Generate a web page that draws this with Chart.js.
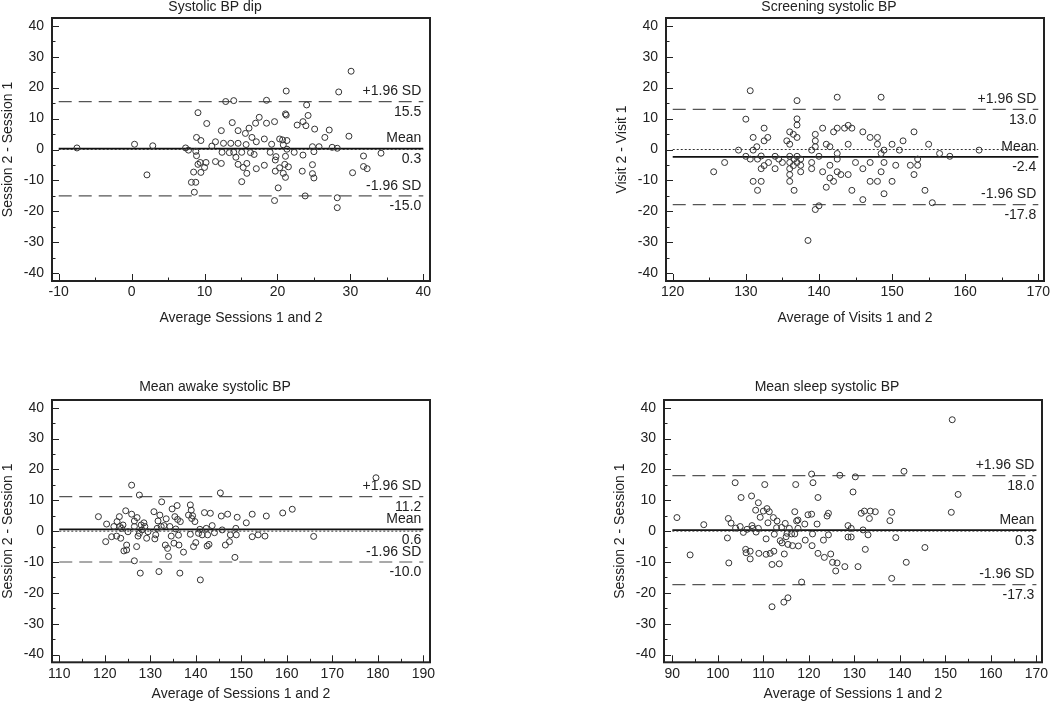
<!DOCTYPE html>
<html><head><meta charset="utf-8">
<script src="https://cdn.jsdelivr.net/npm/chart.js@4.4.1/dist/chart.umd.min.js"></script>
<style>
html,body{margin:0;padding:0;background:#fff;width:1050px;height:703px;overflow:hidden}
.p{position:absolute}
</style></head><body>
<div class="p" style="left:0px;top:0px;width:490px;height:330px"><canvas id="c1"></canvas></div>
<div class="p" style="left:614px;top:0px;width:490px;height:330px"><canvas id="c2"></canvas></div>
<div class="p" style="left:0px;top:380px;width:490px;height:323px"><canvas id="c3"></canvas></div>
<div class="p" style="left:612px;top:380px;width:490px;height:323px"><canvas id="c4"></canvas></div>
<script>
// ---------- data ----------
const titles = ['Systolic BP dip', 'Screening systolic BP', 'Mean awake systolic BP', 'Mean sleep systolic BP'];
const xTitles = ['Average Sessions 1 and 2', 'Average of Visits 1 and 2', 'Average of Sessions 1 and 2', 'Average of Sessions 1 and 2'];
const yTitles = ['Session 2 - Session 1', 'Visit 2 - Visit 1', 'Session 2 - Session 1', 'Session 2 - Session 1'];

const diffYTicks = [-40, -30, -20, -10, 0, 10, 20, 30, 40];
const dipXTicks = [-10, 0, 10, 20, 30, 40];
const screenXTicks = [120, 130, 140, 150, 160, 170];
const awakeXTicks = [110, 120, 130, 140, 150, 160, 170, 180, 190];
const sleepXTicks = [90, 100, 110, 120, 130, 140, 150, 160, 170];

// limits: [+1.96 SD, mean, -1.96 SD]
const dipLimits = [15.5, 0.3, -15.0];
const screenLimits = [13.0, -2.4, -17.8];
const awakeLimits = [11.2, 0.6, -10.0];
const sleepLimits = [18.0, 0.3, -17.3];

const dipAvg = [-7.5,0.4,2.1,2.9,7.4,7.8,9.1,8.9,9.5,8.8,
8.9,9.4,10.2,9.1,10.0,9.5,8.5,8.2,8.8,8.6,
10.3,11.0,11.5,12.3,12.6,12.4,11.5,12.3,12.9,14.0,
13.8,13.6,13.4,14.0,14.3,14.6,14.6,14.6,15.1,15.1,
15.3,15.8,15.8,15.6,15.7,16.1,16.5,16.3,16.8,17.1,
17.0,17.5,17.1,18.2,18.5,18.5,18.2,19.0,19.2,19.6,
19.8,19.7,19.7,19.6,20.1,20.3,20.7,21.3,20.8,20.3,
20.8,21.1,21.5,21.0,21.3,21.1,21.1,21.2,21.2,22.3,
22.7,23.5,23.9,24.0,24.2,23.5,23.4,23.8,24.8,25.0,
24.8,24.8,25.0,25.1,25.7,26.5,27.1,27.5,28.2,28.2,
28.2,28.4,29.8,30.1,30.3,31.8,31.8,32.3,34.2];
const dipDiff = [0.5,1.7,-8.2,1.2,0.5,-0.2,11.9,3.9,2.9,-0.6,
-2.0,-4.2,-4.2,-4.8,-5.8,-7.4,-7.3,-10.6,-10.6,-13.8,
8.4,1.1,2.5,6.1,2.0,-0.9,-3.9,-4.5,15.5,15.8,
8.7,2.0,-1.0,-0.9,-2.5,6.1,2.0,-4.8,-10.4,-0.9,
-5.8,-4.5,-7.7,5.2,1.6,6.9,3.9,-1.0,-1.6,2.5,
8.5,10.4,-6.2,3.4,15.9,8.5,-5.1,-0.9,1.7,9.0,
-2.3,-3.4,-7.0,-16.5,-12.4,3.4,3.1,2.9,1.5,-5.9,
-7.7,-9.0,-5.6,-4.8,0.1,-2.2,11.5,11.1,18.9,-0.9,
7.9,9.0,7.7,14.4,11.0,-1.8,-7.0,-15.0,0.9,-0.7,
-4.9,-7.8,-9.2,6.6,0.9,3.9,6.3,0.7,0.4,-15.6,
-18.8,18.6,4.3,25.3,-7.5,-2.1,-5.5,-6.2,-1.2];

const screenAvg = [125.6,127.1,129.0,130.6,130.0,130.0,130.6,131.0,131.0,131.0,
131.5,131.6,131.6,132.1,132.1,132.1,132.5,132.5,132.5,133.0,
133.1,134.0,134.0,134.5,135.0,135.6,136.0,136.0,136.0,136.0,
136.0,136.0,136.0,136.5,136.5,136.6,137.0,137.0,137.0,137.0,
137.0,137.0,137.5,137.5,138.5,139.0,139.0,139.0,139.5,139.5,
139.5,139.5,140.0,140.0,140.5,140.5,141.0,141.0,141.5,141.5,
141.5,142.0,142.0,142.5,142.5,142.5,142.5,142.5,143.0,143.5,
144.0,144.0,144.0,144.5,144.5,145.0,146.0,146.0,146.0,147.0,
147.0,147.0,148.0,148.0,148.0,148.5,148.5,148.5,148.9,148.9,
148.9,150.0,150.0,150.5,151.0,151.5,152.5,153.0,153.0,153.5,
153.5,154.5,155.0,155.5,156.5,157.9,161.9,136.6,137.5];
const screenDiff = [-7.2,-4.2,-0.2,19.0,9.8,-2.2,-3.1,3.9,-0.2,-10.3,
0.9,-3.1,-13.2,-2.1,-6.2,-10.3,6.9,2.8,-5.2,3.9,
-4.2,-6.2,-2.2,-3.1,-4.2,2.8,1.7,5.7,-2.2,-4.2,
-6.2,-8.1,-10.3,4.9,-5.2,-13.2,15.8,9.9,7.9,3.9,
-2.2,-4.2,-5.1,-7.2,-29.4,-0.2,-4.2,-6.2,4.9,2.8,
0.9,-19.4,-18.2,-2.2,6.9,-7.2,1.7,-12.2,0.9,-5.1,
-9.2,5.7,-10.3,16.9,6.9,-1.3,-3.1,-7.2,-8.1,6.9,
7.8,1.7,-8.1,6.9,-13.2,-4.2,5.7,-6.2,-16.2,3.9,
-4.2,-10.3,3.9,1.7,-10.3,16.9,-1.3,-7.2,-0.2,-4.2,
-14.3,1.7,-10.3,-5.1,-0.2,2.8,-5.1,5.7,-8.1,-3.1,
-5.1,-13.2,1.7,-17.2,-1.3,-2.2,-0.2,-3.1,-3.1];

const awakeAvg = [118.6,120.4,120.2,121.5,122.0,122.6,122.7,123.2,123.3,123.5,
123.7,124.0,124.2,124.6,124.8,124.8,125.1,125.9,125.9,126.5,
126.5,127.0,127.1,127.3,127.6,127.6,127.8,128.2,128.6,128.8,
129.2,129.5,130.8,131.0,131.2,131.5,131.7,131.9,132.1,132.4,
132.5,133.0,133.3,133.5,133.8,134.0,134.3,134.6,134.8,135.2,
135.4,135.6,135.9,136.0,136.2,136.3,136.5,136.6,137.3,138.4,
138.8,139.0,139.1,138.8,139.3,139.5,139.8,140.0,140.6,140.9,
141.0,141.4,141.9,142.3,142.6,142.5,142.9,143.2,143.6,144.1,
145.6,145.4,145.8,146.5,147.0,147.4,147.6,148.6,148.8,148.9,
149.1,151.1,152.4,152.4,153.7,155.2,155.5,159.1,161.2,165.9,
179.6,126.5,128.0];
const awakeDiff = [4.7,2.3,-3.4,-1.8,1.5,-1.6,3.1,4.7,1.5,-2.3,
0.9,2.0,-6.4,6.6,-4.5,-6.1,-0.2,5.5,14.9,1.5,
-9.6,-5.0,4.4,-1.6,11.7,-0.7,-13.6,0.4,2.7,1.5,
-2.3,-0.2,6.3,-2.5,-1.2,0.9,3.3,-13.1,5.2,1.5,
9.5,1.8,-4.5,4.0,-5.6,-8.2,1.5,-1.6,7.2,-3.9,
4.7,0.7,8.3,3.8,-1.3,-4.5,-13.6,3.1,-6.8,5.2,
8.5,6.8,4.1,-1.0,5.0,-5.0,3.1,-3.7,-0.7,0.6,
-15.8,-1.2,6.0,0.9,-1.2,-4.8,-4.3,5.8,1.8,-0.5,
4.9,12.4,0.4,-4.5,5.5,-3.4,-1.2,-8.5,0.9,-1.2,
4.5,2.7,-1.8,5.5,-1.2,-1.6,4.9,5.9,7.1,-1.7,
17.3,3.3,2.0];

const sleepAvg = [91.0,93.9,96.9,102.1,102.3,102.4,102.9,103.8,103.9,104.9,
105.1,105.6,106.1,106.2,106.4,107.1,107.1,107.4,107.5,107.7,
108.3,108.4,108.9,108.9,109.0,109.3,110.0,110.3,110.6,110.8,
110.6,111.0,111.3,111.5,111.9,111.9,112.2,112.3,112.4,112.9,
113.0,113.5,113.7,114.0,114.1,114.5,114.6,114.8,115.0,115.2,
115.4,115.4,115.7,116.2,116.4,116.9,116.9,117.1,117.3,117.6,
117.6,117.7,118.4,119.1,119.2,119.8,120.6,120.7,120.6,120.8,
120.9,121.8,122.0,122.0,123.2,123.4,124.0,124.3,124.3,124.8,
125.2,125.9,126.2,126.8,127.9,128.6,128.6,129.3,129.3,129.7,
130.2,130.8,131.5,131.9,132.2,132.4,133.0,133.3,133.5,134.6,
137.8,138.2,138.2,139.1,140.9,141.4,145.5,151.3,151.5,152.8];
const sleepDiff = [4.4,-7.7,2.1,-2.2,4.1,-10.3,2.6,15.7,1.0,1.5,
10.9,-0.4,-5.9,-7.0,0.6,-6.5,-9.0,11.4,1.8,0.9,
6.8,-0.3,9.2,0.9,-7.2,4.5,6.5,15.1,-2.5,7.3,
-7.5,2.7,6.3,-7.2,-24.5,-10.8,4.4,-6.5,-1.0,1.1,
3.3,-10.6,-3.1,1.2,-3.8,-23.0,-7.4,2.5,-1.8,-0.7,
-21.6,-4.3,0.9,-0.9,-4.7,6.3,-0.9,15.1,3.3,0.9,
3.6,-4.8,-16.5,2.3,-2.9,5.3,5.5,-4.7,18.5,-0.9,
15.7,2.3,10.9,-7.2,-2.9,-8.5,4.9,5.8,-1.2,-7.4,
-10.1,-12.9,-10.3,18.1,-11.5,1.8,-1.9,0.9,-1.9,12.7,
17.6,-11.5,5.8,0.4,6.5,-5.9,-1.2,4.1,6.5,6.3,
3.4,6.1,-15.3,-2.1,19.4,-10.1,-5.3,6.1,36.1,11.9];

// ---------- drawing ----------
const FONT = '"Liberation Sans", Arial, sans-serif';
const FS = 14;
const INK = '#222';

const blandPlugin = {
  id: 'bland',
  afterDatasetsDraw(chart, args, o) {
    const {ctx, chartArea: a, scales: {x, y}} = chart;
    ctx.save();
    ctx.strokeStyle = INK;
    ctx.lineWidth = 1;
    ctx.beginPath();
    const xt = o.xTicks, yt = o.yTicks;
    const xs = xt[1] - xt[0], ys = yt[1] - yt[0];
    for (let i = 0; i <= (xt.length - 1) * 2; i++) {
      const v = xt[0] + i * xs / 2;
      const px = Math.round(x.getPixelForValue(v)) + 0.5;
      ctx.moveTo(px, a.bottom);
      ctx.lineTo(px, a.bottom - (i % 2 === 0 ? 7 : 3.5));
    }
    for (let i = 0; i <= (yt.length - 1) * 2; i++) {
      const v = yt[0] + i * ys / 2;
      const py = Math.round(y.getPixelForValue(v)) + 0.5;
      ctx.moveTo(a.left, py);
      ctx.lineTo(a.left + (i % 2 === 0 ? 7 : 3.5), py);
    }
    ctx.stroke();
    ctx.lineWidth = 2;
    ctx.strokeRect(a.left, a.top, a.right - a.left, a.bottom - a.top);
    ctx.fillStyle = INK;
    ctx.font = FS + 'px ' + FONT;
    ctx.textAlign = 'right';
    ctx.textBaseline = 'middle';
    const tx = x.getPixelForValue(xt[xt.length - 1]) - 2;
    const names = ['+1.96 SD', 'Mean', '-1.96 SD'];
    o.limits.forEach((v, i) => {
      const py = y.getPixelForValue(v);
      ctx.fillText(names[i], tx, py - 10);
      ctx.fillText(v.toFixed(1), tx, py + 10.5);
    });
    ctx.restore();
  }
};

function makePanel(id, idx, avg, diff, xTicks, limits, xMin, xMax, L) {
  const x0 = xTicks[0], x1 = xTicks[xTicks.length - 1];
  const hline = (v, dash, color, w) => ({
    data: [{x: x0, y: v}, {x: x1, y: v}],
    showLine: true, pointRadius: 0, borderColor: color, borderWidth: w,
    borderDash: dash, fill: false
  });
  new Chart(document.getElementById(id), {
    type: 'scatter',
    data: {
      datasets: [
        {
          data: avg.map((a, i) => ({x: a, y: diff[i]})),
          pointRadius: 3, pointBorderWidth: 1,
          pointBorderColor: '#333', pointBackgroundColor: 'rgba(255,255,255,0)'
        },
        hline(limits[0], [13, 7], '#555', 1.2),
        hline(limits[2], [13, 7], '#555', 1.2),
        hline(0, [2, 2], '#333', 1),
        hline(limits[1], [], '#111', 1.8)
      ]
    },
    options: {
      responsive: true, maintainAspectRatio: false, animation: false,
      layout: {padding: {left: 0, right: 60, top: 0, bottom: L.padBottom}},
      plugins: {
        legend: {display: false}, tooltip: {enabled: false},
        title: {display: true, text: titles[idx], color: INK,
          font: {family: FONT, size: FS, weight: 'normal', lineHeight: 1},
          padding: {top: 0, bottom: L.titleBottom}},
        bland: {xTicks: xTicks, yTicks: diffYTicks, limits: limits}
      },
      scales: {
        x: {
          type: 'linear', min: xMin, max: xMax,
          afterBuildTicks: s => { s.ticks = xTicks.map(v => ({value: v})); },
          afterFit: s => { s.height = L.xAxisH; },
          grid: {display: false, drawTicks: false}, border: {display: false},
          ticks: {autoSkip: false, maxRotation: 0, padding: L.xTickPad, color: INK,
            font: {family: FONT, size: FS}, callback: v => String(v)},
          title: {display: true, text: xTitles[idx], color: INK,
            font: {family: FONT, size: FS}, padding: {top: 0, bottom: 0}}
        },
        y: {
          type: 'linear', min: -42.5, max: 42.5,
          afterBuildTicks: s => { s.ticks = diffYTicks.map(v => ({value: v})); },
          afterFit: s => { s.width = 52; },
          grid: {display: false, drawTicks: false}, border: {display: false},
          ticks: {autoSkip: false, padding: 8, color: INK,
            font: {family: FONT, size: FS}, callback: v => String(v)},
          title: {display: true, text: yTitles[idx], color: INK,
            font: {family: FONT, size: FS}, padding: {top: 0, bottom: 0}}
        }
      }
    },
    plugins: [blandPlugin]
  });
}

const topRow = {titleBottom: 4, padBottom: 3.6, xAxisH: 45.4, xTickPad: 2.3};
const bottomRow = {titleBottom: 6, padBottom: 0.6, xAxisH: 40.1, xTickPad: 3.3};

makePanel('c1', 0, dipAvg, dipDiff, dipXTicks, dipLimits, -10.92, 40.92, topRow);
makePanel('c2', 1, screenAvg, screenDiff, screenXTicks, screenLimits, 119.08, 170.78, topRow);
makePanel('c3', 2, awakeAvg, awakeDiff, awakeXTicks, awakeLimits, 108.4, 191.47, bottomRow);
makePanel('c4', 3, sleepAvg, sleepDiff, sleepXTicks, sleepLimits, 88.16, 171.23, bottomRow);
</script>
</body></html>
